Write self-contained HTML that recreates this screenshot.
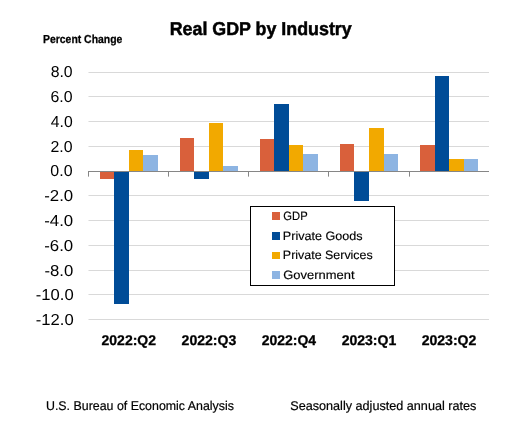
<!DOCTYPE html>
<html><head><meta charset="utf-8"><style>
html,body{margin:0;padding:0;background:#fff;width:524px;height:435px;overflow:hidden;}
svg{display:block;}
text{font-family:"Liberation Sans",sans-serif;fill:#000;text-rendering:geometricPrecision;}
</style></head><body>
<div style="will-change:transform;width:524px;height:435px;background:#fff"><svg width="524" height="435" viewBox="0 0 524 435">
<rect x="0" y="0" width="524" height="435" fill="#fff"/>
<g shape-rendering="crispEdges">
<rect x="89" y="72" width="400" height="1" fill="#D9D9D9"/>
<rect x="88" y="72" width="1" height="1" fill="#EBEBEB"/>
<rect x="89" y="96" width="400" height="1" fill="#D9D9D9"/>
<rect x="88" y="96" width="1" height="1" fill="#EBEBEB"/>
<rect x="89" y="121" width="400" height="1" fill="#D9D9D9"/>
<rect x="88" y="121" width="1" height="1" fill="#EBEBEB"/>
<rect x="89" y="146" width="400" height="1" fill="#D9D9D9"/>
<rect x="88" y="146" width="1" height="1" fill="#EBEBEB"/>
<rect x="89" y="195" width="400" height="1" fill="#D9D9D9"/>
<rect x="88" y="195" width="1" height="1" fill="#EBEBEB"/>
<rect x="89" y="220" width="400" height="1" fill="#D9D9D9"/>
<rect x="88" y="220" width="1" height="1" fill="#EBEBEB"/>
<rect x="89" y="245" width="400" height="1" fill="#D9D9D9"/>
<rect x="88" y="245" width="1" height="1" fill="#EBEBEB"/>
<rect x="89" y="270" width="400" height="1" fill="#D9D9D9"/>
<rect x="88" y="270" width="1" height="1" fill="#EBEBEB"/>
<rect x="89" y="294" width="400" height="1" fill="#D9D9D9"/>
<rect x="88" y="294" width="1" height="1" fill="#EBEBEB"/>
<rect x="89" y="319" width="400" height="1" fill="#D9D9D9"/>
<rect x="88" y="319" width="1" height="1" fill="#EBEBEB"/>
<rect x="100" y="172" width="14" height="7" fill="#D9603B"/>
<rect x="114" y="172" width="15" height="132" fill="#004C97"/>
<rect x="129" y="150" width="14" height="21" fill="#F2A900"/>
<rect x="143" y="155" width="15" height="16" fill="#8DB4E2"/>
<rect x="180" y="138" width="14" height="33" fill="#D9603B"/>
<rect x="194" y="172" width="15" height="7" fill="#004C97"/>
<rect x="209" y="123" width="14" height="48" fill="#F2A900"/>
<rect x="223" y="166" width="15" height="5" fill="#8DB4E2"/>
<rect x="260" y="139" width="14" height="32" fill="#D9603B"/>
<rect x="274" y="104" width="15" height="67" fill="#004C97"/>
<rect x="289" y="145" width="14" height="26" fill="#F2A900"/>
<rect x="303" y="154" width="15" height="17" fill="#8DB4E2"/>
<rect x="340" y="144" width="14" height="27" fill="#D9603B"/>
<rect x="354" y="172" width="15" height="29" fill="#004C97"/>
<rect x="369" y="128" width="15" height="43" fill="#F2A900"/>
<rect x="384" y="154" width="14" height="17" fill="#8DB4E2"/>
<rect x="420" y="145" width="15" height="26" fill="#D9603B"/>
<rect x="435" y="76" width="14" height="95" fill="#004C97"/>
<rect x="449" y="159" width="15" height="12" fill="#F2A900"/>
<rect x="464" y="159" width="14" height="12" fill="#8DB4E2"/>
<rect x="88" y="171" width="401" height="1" fill="#868686"/>
<rect x="88" y="171" width="1" height="5" fill="#868686"/>
<rect x="88" y="176" width="1" height="1" fill="#B4B4B4"/>
<rect x="168" y="171" width="1" height="5" fill="#868686"/>
<rect x="168" y="176" width="1" height="1" fill="#B4B4B4"/>
<rect x="248" y="171" width="1" height="5" fill="#868686"/>
<rect x="248" y="176" width="1" height="1" fill="#B4B4B4"/>
<rect x="328" y="171" width="1" height="5" fill="#868686"/>
<rect x="328" y="176" width="1" height="1" fill="#B4B4B4"/>
<rect x="409" y="171" width="1" height="5" fill="#868686"/>
<rect x="409" y="176" width="1" height="1" fill="#B4B4B4"/>
<rect x="250.5" y="206.5" width="144" height="79" fill="#fff" stroke="#000" stroke-width="1"/>
<rect x="272" y="212" width="8" height="8" fill="#D9603B"/>
<rect x="272" y="232" width="8" height="8" fill="#004C97"/>
<rect x="272" y="252" width="8" height="7" fill="#F2A900"/>
<rect x="272" y="271" width="8" height="8" fill="#8DB4E2"/>
</g>
<text x="169.70" y="35" font-size="18.64" font-weight="bold" stroke="#000" stroke-width="0.5" textLength="182.06" lengthAdjust="spacingAndGlyphs">Real GDP by Industry</text>
<text x="43.01" y="43" font-size="11.62" font-weight="bold" stroke="#000" stroke-width="0.25" textLength="79.31" lengthAdjust="spacingAndGlyphs">Percent Change</text>
<text x="50.67" y="77" font-size="15.83" textLength="21.99" lengthAdjust="spacingAndGlyphs">8.0</text>
<text x="50.51" y="102" font-size="15.83" textLength="22.11" lengthAdjust="spacingAndGlyphs">6.0</text>
<text x="50.82" y="127" font-size="15.83" textLength="21.89" lengthAdjust="spacingAndGlyphs">4.0</text>
<text x="50.48" y="152" font-size="15.83" textLength="22.09" lengthAdjust="spacingAndGlyphs">2.0</text>
<text x="50.37" y="176" font-size="15.83" textLength="22.21" lengthAdjust="spacingAndGlyphs">0.0</text>
<text x="44.19" y="201" font-size="15.83" textLength="29.02" lengthAdjust="spacingAndGlyphs">-2.0</text>
<text x="44.19" y="226" font-size="15.83" textLength="29.02" lengthAdjust="spacingAndGlyphs">-4.0</text>
<text x="44.19" y="251" font-size="15.83" textLength="29.02" lengthAdjust="spacingAndGlyphs">-6.0</text>
<text x="44.47" y="276" font-size="15.83" textLength="28.85" lengthAdjust="spacingAndGlyphs">-8.0</text>
<text x="35.75" y="300" font-size="15.83" textLength="37.90" lengthAdjust="spacingAndGlyphs">-10.0</text>
<text x="35.75" y="325" font-size="15.83" textLength="37.90" lengthAdjust="spacingAndGlyphs">-12.0</text>
<text x="101.57" y="345" font-size="14.08" font-weight="bold" stroke="#000" stroke-width="0.3" textLength="54.40" lengthAdjust="spacingAndGlyphs">2022:Q2</text>
<text x="181.61" y="345" font-size="14.08" font-weight="bold" stroke="#000" stroke-width="0.3" textLength="54.70" lengthAdjust="spacingAndGlyphs">2022:Q3</text>
<text x="261.66" y="345" font-size="14.08" font-weight="bold" stroke="#000" stroke-width="0.3" textLength="54.37" lengthAdjust="spacingAndGlyphs">2022:Q4</text>
<text x="341.64" y="345" font-size="14.08" font-weight="bold" stroke="#000" stroke-width="0.3" textLength="54.63" lengthAdjust="spacingAndGlyphs">2023:Q1</text>
<text x="421.63" y="345" font-size="14.08" font-weight="bold" stroke="#000" stroke-width="0.3" textLength="54.74" lengthAdjust="spacingAndGlyphs">2023:Q2</text>
<text x="283.34" y="220" font-size="12.08" stroke="#000" stroke-width="0.15" textLength="24.30" lengthAdjust="spacingAndGlyphs">GDP</text>
<text x="282.81" y="240" font-size="12.08" stroke="#000" stroke-width="0.15" textLength="79.79" lengthAdjust="spacingAndGlyphs">Private Goods</text>
<text x="282.87" y="259" font-size="12.08" stroke="#000" stroke-width="0.15" textLength="89.86" lengthAdjust="spacingAndGlyphs">Private Services</text>
<text x="283.31" y="279" font-size="12.08" stroke="#000" stroke-width="0.15" textLength="71.21" lengthAdjust="spacingAndGlyphs">Government</text>
<text x="45.97" y="410" font-size="12.67" stroke="#000" stroke-width="0.2" textLength="187.96" lengthAdjust="spacingAndGlyphs">U.S. Bureau of Economic Analysis</text>
<text x="290.22" y="410" font-size="12.67" stroke="#000" stroke-width="0.2" textLength="186.13" lengthAdjust="spacingAndGlyphs">Seasonally adjusted annual rates</text>
</svg></div>
</body></html>
